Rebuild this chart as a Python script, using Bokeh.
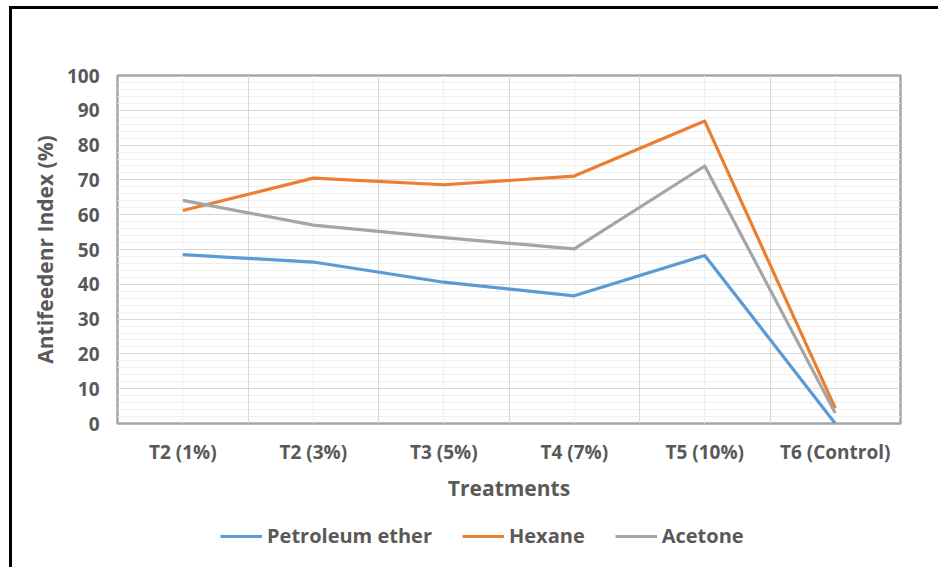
from bokeh.plotting import figure
from bokeh.models import FixedTicker, Grid, Legend, LegendItem, Range1d
from bokeh.layouts import column
from bokeh.embed import file_html
from bokeh.resources import INLINE

categories = ["T2 (1%)", "T2 (3%)", "T3 (5%)", "T4 (7%)", "T5 (10%)", "T6 (Control)"]
petroleum_ether = [48.5, 46.4, 40.6, 36.7, 48.3, 0.0]
hexane = [61.2, 70.5, 68.6, 71.1, 86.9, 4.4]
acetone = [64.1, 57.0, 53.4, 50.2, 74.0, 3.0]
series_names = ["Petroleum ether", "Hexane", "Acetone"]
series_colors = ["#5b9bd5", "#ed7d31", "#a5a5a5"]
y_ticks = [0, 10, 20, 30, 40, 50, 60, 70, 80, 90, 100]
y_minor = list(range(0, 101, 2))

x = list(range(1, len(categories) + 1))
boundaries = [i + 0.5 for i in x[:-1]]
series = [petroleum_ether, hexane, acetone]

FONT = "Open Sans"
TXT = "#595959"
W = 926

p = figure(width=W, height=506, output_backend="svg", toolbar_location=None,
           x_range=Range1d(0.5, len(categories) + 0.5), y_range=Range1d(0, 100),
           min_border_left=105, min_border_right=38, min_border_top=66,
           min_border_bottom=92)

p.outline_line_color = "#a6a6a6"
p.outline_line_width = 2.5

p.xgrid.visible = False
p.ygrid.ticker = FixedTicker(ticks=y_ticks, minor_ticks=y_minor)
p.ygrid.grid_line_color = "#d9d9d9"
p.ygrid.grid_line_width = 1
p.ygrid.minor_grid_line_color = "#efefef"
p.ygrid.minor_grid_line_width = 1

p.add_layout(Grid(dimension=0, ticker=FixedTicker(ticks=x), grid_line_color="#efefef",
                  grid_line_width=1))
p.add_layout(Grid(dimension=0, ticker=FixedTicker(ticks=boundaries), grid_line_color="#d9d9d9",
                  grid_line_width=1))

for ax in (p.xaxis[0], p.yaxis[0]):
    ax.axis_line_color = None
    ax.major_tick_line_color = None
    ax.minor_tick_line_color = None
    ax.major_tick_out = 0
    ax.major_tick_in = 0
    ax.major_label_text_font = FONT
    ax.major_label_text_font_style = "bold"
    ax.major_label_text_font_size = "19px"
    ax.major_label_text_color = TXT
    ax.axis_label_text_font = FONT
    ax.axis_label_text_font_style = "bold"
    ax.axis_label_text_font_size = "21px"
    ax.axis_label_text_color = TXT

p.xaxis.ticker = FixedTicker(ticks=x)
p.xaxis.major_label_overrides = {i: c for i, c in zip(x, categories)}
p.xaxis.major_label_standoff = 15
p.xaxis.axis_label = "Treatments"
p.xaxis.axis_label_standoff = 6

p.yaxis.ticker = FixedTicker(ticks=y_ticks)
p.yaxis.major_label_standoff = 18
p.yaxis.axis_label = "Antifeedenr Index (%)"
p.yaxis.axis_label_standoff = 5

for vals, col in zip(series, series_colors):
    p.line(x, vals, line_color=col, line_width=3.2, line_join="round")

# legend strip below the chart
leg = figure(width=W, height=52, output_backend="svg", toolbar_location=None,
             x_range=Range1d(0, 1), y_range=Range1d(0, 1),
             x_axis_location=None, y_axis_location=None,
             min_border_left=0, min_border_right=0, min_border_top=0, min_border_bottom=0)
leg.outline_line_color = None
leg.grid.visible = False
items = []
for name, vals, col in zip(series_names, series, series_colors):
    r = leg.line(x, vals, line_color=col, line_width=3, visible=False)
    items.append(LegendItem(label=name, renderers=[r]))

legend = Legend(items=items, orientation="horizontal", location=(103, 18),
                border_line_color=None, background_fill_alpha=0,
                padding=0, margin=0, spacing=30, glyph_width=42, glyph_height=20,
                label_standoff=5, label_height=20,
                label_text_font=FONT, label_text_font_style="bold",
                label_text_font_size="20px", label_text_color=TXT)
leg.add_layout(legend)

layout = column(p, leg, spacing=0)
layout.styles = {"margin-left": "9px", "margin-top": "6px",
                 "border-left": "3px solid black", "border-top": "3px solid black"}

open("out.html", "w").write(file_html(layout, INLINE))
